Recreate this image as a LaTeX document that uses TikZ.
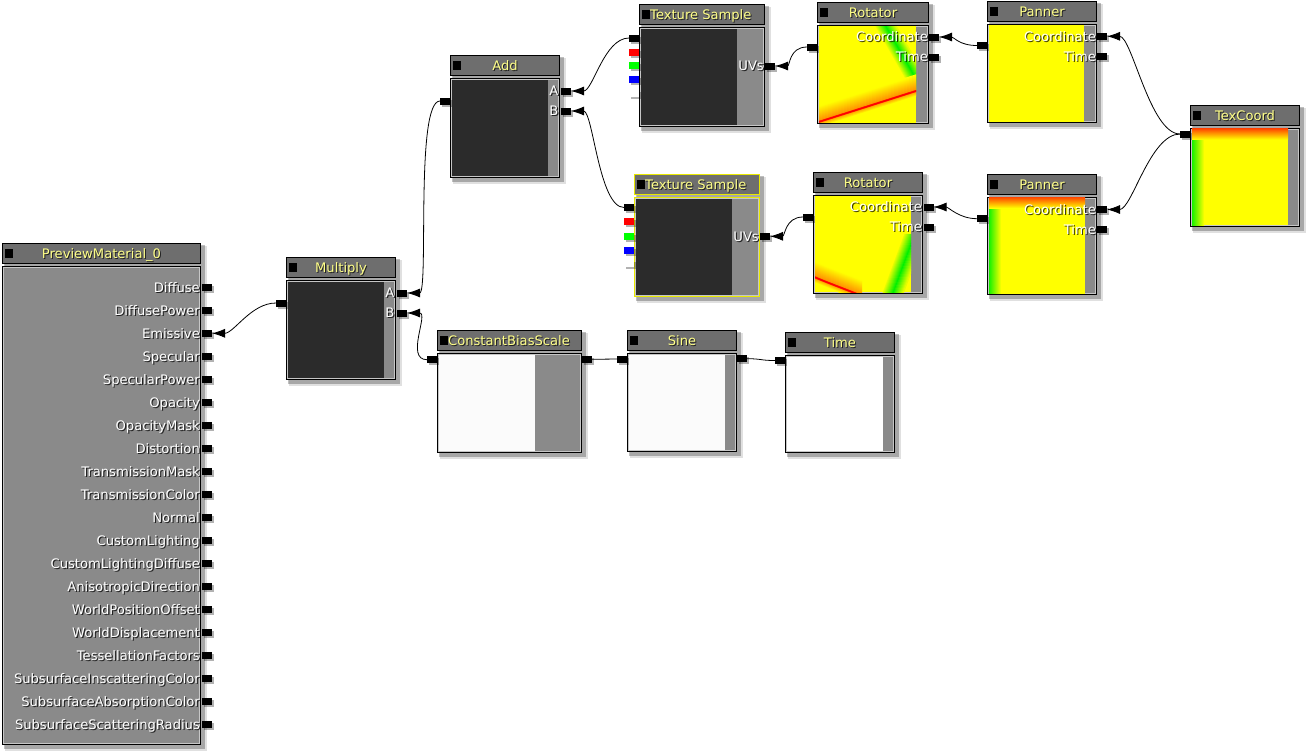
\documentclass[tikz,border=0pt]{standalone}
\usepackage{fontspec}
\setmainfont{DejaVu Sans}
\usetikzlibrary{arrows.meta}
\definecolor{hdr}{HTML}{6E6E6E}
\definecolor{bodyg}{HTML}{8A8A8A}
\definecolor{darkprev}{HTML}{2B2B2B}
\definecolor{ttl}{HTML}{FFFF88}
\definecolor{selyel}{HTML}{E8E800}
\definecolor{whiteprev}{HTML}{FBFBFB}
\definecolor{pyel}{HTML}{FFFF00}
\definecolor{porange}{HTML}{FF8C00}
\definecolor{pgreen}{HTML}{00F000}
\tikzset{
  pinbox/.style={draw=none, minimum width=10pt, minimum height=7pt, inner sep=0pt, outer sep=0pt},
  wire/.style={draw=black, line width=0.8pt, -{Latex[length=13pt,width=9pt]}},
  plainwire/.style={draw=black, line width=0.8pt},
  lblf/.style={font=\fontsize{13.1}{15}\selectfont, inner sep=0pt},
  ttlf/.style={font=\fontsize{13.1}{15}\selectfont, inner sep=0pt},
}
% material box: name, x1, y1, x2, y2, border colour
\newcommand\matbox[6]{%
  \fill[black,opacity=.12] ({#2+3},{#3+3}) rectangle ({#4+6},{#5+6});
  \fill[black,opacity=.25] ({#2+2},{#3+2}) rectangle ({#4+4},{#5+4});
  \fill[hdr] (#2,#3) rectangle (#4,{#3+21});
  \draw[#6,line width=1pt] ({#2+.5},{#3+.5}) rectangle ({#4-.5},{#3+20.5});
  \fill[bodyg] (#2,{#3+23}) rectangle (#4,#5);
  \draw[#6,line width=1pt] ({#2+.5},{#3+23.5}) rectangle ({#4-.5},{#5-.5});
  \draw[gray!45,line width=.7pt] ({#2+1.5},{#3+24.5}) rectangle ({#4-1.5},{#5-1.5});
  \fill[black] ({#2+3},{#3+6}) rectangle ({#2+11},{#3+15});
  \coordinate (#1) at (#2,#3);
}
% centred title: name, x, baseline y, text
\newcommand\ttlc[4]{%
  \node[ttlf, anchor=base, text=black, opacity=.7] (#1s) at ({#2+1},{#3+1}) {#4};
  \node[ttlf, anchor=base, text=ttl] (#1) at (#2,#3) {#4};
}
% left title
\newcommand\ttll[4]{%
  \node[ttlf, anchor=base west, text=black, opacity=.7] (#1s) at ({#2+1},{#3+1}) {#4};
  \node[ttlf, anchor=base west, text=ttl] (#1) at (#2,#3) {#4};
}
% right-aligned label: x (east), pin y, text
\newcommand\plabel[3]{%
  \node[lblf, anchor=base east, text=black, opacity=.75] at ({#1+1.2},{#2+5.9}) {#3};
  \node[lblf, anchor=base east, text=white] at (#1,{#2+4.7}) {#3};
}
% pin: name, x, y, colour
\newcommand\pinat[4]{%
  \fill[black,opacity=.3] ({#2-3},{#3-1.5}) rectangle ({#2+7},{#3+5.5});
  \node[pinbox, fill=#4] (#1) at (#2,#3) {};
}
\begin{document}
\begin{tikzpicture}[x=1pt,y=-1pt]
\useasboundingbox (0,0) rectangle (1308,753);
\fill[white] (0,0) rectangle (1308,753);

% ---------------- PreviewMaterial_0
\matbox{mat}{2}{243}{201}{745}{black}
\ttlc{matT}{101.5}{258.5}{PreviewMaterial\_0}
\foreach [count=\i from 0] \t in {Diffuse,DiffusePower,Emissive,Specular,SpecularPower,Opacity,OpacityMask,Distortion,TransmissionMask,TransmissionColor,Normal,CustomLighting,CustomLightingDiffuse,AnisotropicDirection,WorldPositionOffset,WorldDisplacement,TessellationFactors,SubsurfaceInscatteringColor,SubsurfaceAbsorptionColor,SubsurfaceScatteringRadius}{
  \pgfmathsetmacro\yy{287.3+23*\i}
  \plabel{200}{\yy}{\t}
  \pinat{mat\i}{207}{\yy}{black}
}

% ---------------- Multiply
\matbox{mult}{286}{257}{396}{380}{black}
\fill[darkprev] (288,281.5) rectangle (384,378);
\ttlc{multT}{341}{272.5}{Multiply}
\pinat{multIn}{281}{303}{black}
\pinat{multA}{402}{293}{black}
\pinat{multB}{402}{313}{black}
\plabel{394.5}{293}{A}
\plabel{394.5}{313}{B}

% ---------------- Add
\matbox{add}{450}{55}{560}{178}{black}
\fill[darkprev] (452,79.5) rectangle (548,176);
\ttlc{addT}{505}{70.5}{Add}
\pinat{addIn}{445}{101}{black}
\pinat{addA}{566}{91}{black}
\pinat{addB}{566}{111}{black}
\plabel{558.5}{91}{A}
\plabel{558.5}{111}{B}

% ---------------- Texture Sample (top)
\matbox{tex1}{639}{4}{765}{127}{black}
\fill[darkprev] (641,28.5) rectangle (737,125);
\ttll{tex1T}{650}{19.5}{Texture Sample}
\pinat{tex1In}{634}{38}{black}
\pinat{tex1R}{634}{52}{red}
\pinat{tex1G}{634}{65.5}{green}
\pinat{tex1B}{634}{79.5}{blue}
\pinat{tex1W}{634}{93.5}{white}
\pinat{tex1UV}{770}{66}{black}
\plabel{764}{66}{UVs}

% ---------------- Texture Sample (bottom, selected)
\matbox{tex2}{634}{174}{760}{297}{selyel}
\fill[darkprev] (636,198.5) rectangle (732,295);
\ttll{tex2T}{645}{189.5}{Texture Sample}
\pinat{tex2In}{629}{207.5}{black}
\pinat{tex2R}{629}{221}{red}
\pinat{tex2G}{629}{236}{green}
\pinat{tex2B}{629}{250}{blue}
\pinat{tex2W}{629}{263.5}{white}
\pinat{tex2UV}{765}{236.3}{black}
\plabel{759}{236.3}{UVs}

% ---------------- Rotator (top)
\matbox{rot1}{817}{2}{929}{124}{black}
\begin{scope}
\clip (819,26) rectangle (916,122.5);
\fill[pyel] (819,26) rectangle (916,122.5);
\foreach \k in {-10,...,10}{
  \pgfmathtruncatemacro\pp{max(0,100-9*abs(\k))}
  \draw[line width=1.3pt, pgreen!\pp!pyel] ({881.4+\k},18) -- ({922.7+\k},90);
}
\foreach \k in {16,15,...,1}{
  \pgfmathtruncatemacro\pp{max(0,100-6.5*\k)}
  \draw[line width=1.3pt, porange!\pp!pyel] (810,{124.7-\k}) -- (926,{87.8-\k});
}
\foreach \k in {5,4,...,1}{
  \pgfmathtruncatemacro\pp{max(0,100-20*\k)}
  \draw[line width=1.3pt, porange!\pp!pyel] (810,{124.7+\k}) -- (926,{87.8+\k});
}
\draw[line width=2pt, red!80!porange] (810,124.7) -- (926,87.8);
\draw[line width=1.2pt, red] (810,124.7) -- (926,87.8);
\end{scope}
\ttlc{rot1T}{873}{17.5}{Rotator}
\pinat{rot1In}{812}{47}{black}
\pinat{rot1Co}{934}{37}{black}
\pinat{rot1Ti}{934}{57}{black}
\plabel{928}{37}{Coordinate}
\plabel{928}{57}{Time}

% ---------------- Rotator (bottom)
\matbox{rot2}{813}{172}{923}{293.5}{black}
\begin{scope}
\clip (815,196) rectangle (911,292);
\fill[pyel] (815,196) rectangle (911,292);
\foreach \k in {-10,...,10}{
  \pgfmathtruncatemacro\pp{max(0,100-9*abs(\k))}
  \draw[line width=1.3pt, pgreen!\pp!pyel] ({915+\k},234) -- ({891+\k},299);
}
\foreach \k in {16,15,...,1}{
  \pgfmathtruncatemacro\pp{max(0,100-6.5*\k)}
  \draw[line width=1.3pt, porange!\pp!pyel] (805,{273-\k}) .. controls (825,{282-\k}) and (845,{289-\k}) .. (862,{296-\k});
}
\foreach \k in {5,4,...,1}{
  \pgfmathtruncatemacro\pp{max(0,100-20*\k)}
  \draw[line width=1.3pt, porange!\pp!pyel] (805,{273+\k}) .. controls (825,{282+\k}) and (845,{289+\k}) .. (862,{296+\k});
}
\draw[line width=2pt, red!80!porange] (805,273) .. controls (825,282) and (845,289) .. (862,296);
\draw[line width=1.2pt, red] (805,273) .. controls (825,282) and (845,289) .. (862,296);
\end{scope}
\ttlc{rot2T}{868}{187.5}{Rotator}
\pinat{rot2In}{808}{217}{black}
\pinat{rot2Co}{928.5}{207}{black}
\pinat{rot2Ti}{928.5}{227}{black}
\plabel{922}{207}{Coordinate}
\plabel{922}{227}{Time}

% ---------------- Panner (top)
\matbox{pan1}{987}{0.5}{1097}{123}{black}
\fill[pyel] (989,25) rectangle (1084,121.5);
\ttlc{pan1T}{1042}{16}{Panner}
\pinat{pan1In}{982}{45.5}{black}
\pinat{pan1Co}{1102}{36.3}{black}
\pinat{pan1Ti}{1102}{56.3}{black}
\plabel{1096}{36.3}{Coordinate}
\plabel{1096}{56.3}{Time}

% ---------------- Panner (bottom)
\matbox{pan2}{987}{174}{1097}{295}{black}
\fill[pyel] (989,197) rectangle (1085,293.5);
\shade[left color=pgreen!90!pyel, right color=pyel] (989,197) rectangle (1001,293.5);
\shade[top color=red!50!porange, bottom color=pyel] (989,197) rectangle (1085,208);
\ttlc{pan2T}{1042}{189.5}{Panner}
\pinat{pan2In}{982}{218.7}{black}
\pinat{pan2Co}{1102}{209.5}{black}
\pinat{pan2Ti}{1102}{229.5}{black}
\plabel{1096}{209.5}{Coordinate}
\plabel{1096}{229.5}{Time}

% ---------------- TexCoord
\matbox{texc}{1190}{105}{1300}{227}{black}
\fill[pyel] (1192,128.5) rectangle (1288,225);
\shade[left color=pgreen!90!pyel, right color=pyel] (1192,128.5) rectangle (1204,225);
\shade[top color=red!50!porange, bottom color=pyel] (1192,128.5) rectangle (1288,139.5);
\ttlc{texcT}{1245}{120.5}{TexCoord}
\pinat{texcOut}{1185}{134}{black}

% ---------------- ConstantBiasScale
\matbox{cbs}{437}{330}{582}{453}{black}
\fill[whiteprev] (439,354.5) rectangle (535,451);
\ttll{cbsT}{448}{345.5}{ConstantBiasScale}
\pinat{cbsIn}{432}{359.7}{black}
\pinat{cbsOut}{587}{359.3}{black}

% ---------------- Sine
\matbox{sine}{627}{330}{737}{452}{black}
\fill[whiteprev] (629,354.5) rectangle (725,450);
\ttlc{sineT}{682}{345.5}{Sine}
\pinat{sineIn}{622}{359}{black}
\pinat{sineOut}{742}{358.7}{black}

% ---------------- Time
\matbox{time}{785}{332}{895}{453}{black}
\fill[white] (787,356.5) rectangle (883,451);
\ttlc{timeT}{840}{347.5}{Time}
\pinat{timeIn}{780}{360.5}{black}

% ---------------- wires
\draw[wire] (multIn.west) .. controls +(-25,0) and +(22,0) .. (mat2.east);
\draw[wire] (addIn.west) .. controls +(-25,0) and +(22,0) .. (multA.east);
\draw[wire] (cbsIn.west) .. controls +(-22,0) and +(22,0) .. (multB.east);
\draw[wire] (tex1In.west) .. controls +(-25,0) and +(22,0) .. (addA.east);
\draw[wire] (tex2In.west) .. controls +(-25,0) and +(22,0) .. (addB.east);
\draw[wire] (rot1In.west) .. controls +(-18,0) and +(15,0) .. (tex1UV.east);
\draw[wire] (rot2In.west) .. controls +(-18,0) and +(15,0) .. (tex2UV.east);
\draw[wire] (pan1In.west) .. controls +(-18,0) and +(15,0) .. (rot1Co.east);
\draw[wire] (pan2In.west) .. controls +(-18,0) and +(15,0) .. (rot2Co.east);
\draw[wire] (texcOut.west) .. controls +(-30,0) and +(25,0) .. (pan1Co.east);
\draw[wire] (texcOut.west) .. controls +(-30,0) and +(25,0) .. (pan2Co.east);
\draw[plainwire] (cbsOut.east) -- (sineIn.west);
\draw[plainwire] (sineOut.east) .. controls +(15,0) and +(-15,0) .. (timeIn.west);
\end{tikzpicture}
\end{document}
